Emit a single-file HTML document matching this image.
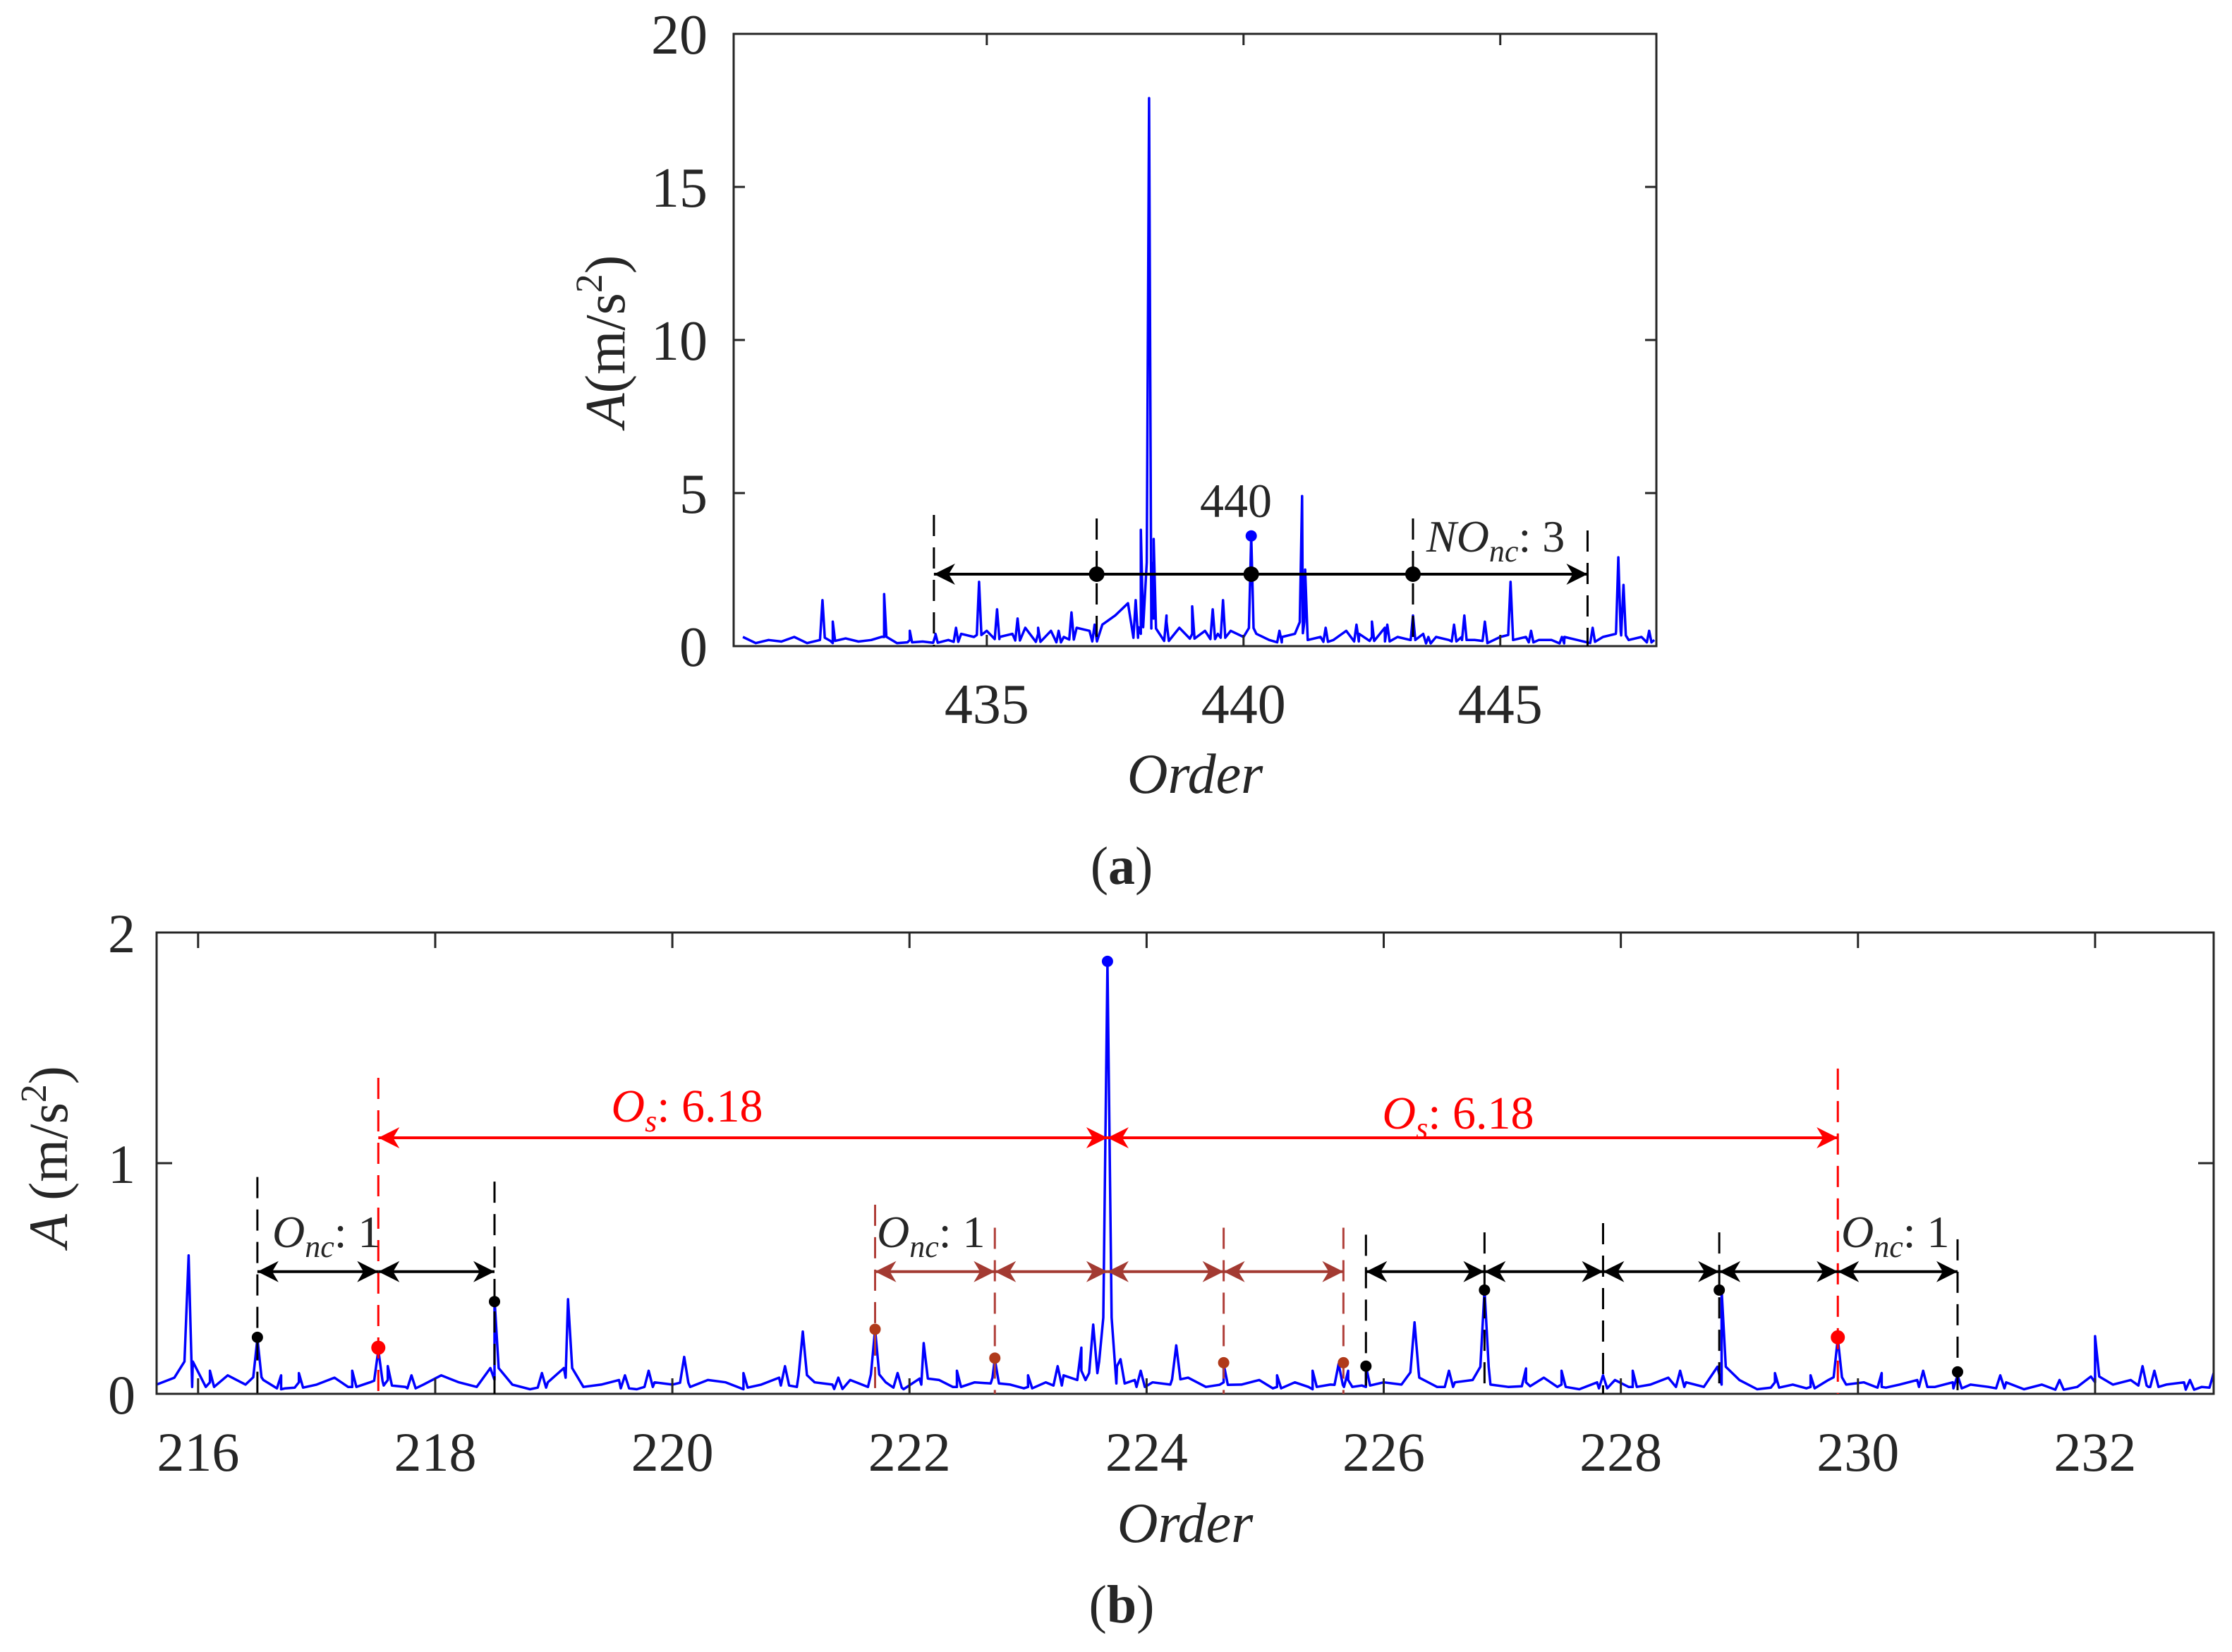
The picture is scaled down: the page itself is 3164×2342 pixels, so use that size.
<!DOCTYPE html>
<html><head><meta charset="utf-8"><style>
html,body{margin:0;padding:0;background:#fff}
svg{display:block}
text{font-family:"Liberation Serif",serif;fill:#262626}
</style></head><body>
<svg id="fig" width="3164" height="2342" viewBox="0 0 3164 2342" xmlns="http://www.w3.org/2000/svg">
<g id="top"></g>
<g id="bot"></g>
</svg>
<script>
// ---------- Chart (a) data ----------
const aXTicks = [435, 440, 445];
const aYTicks = [0, 5, 10, 15, 20];
const aPeakOrders = [431.8,432.0,433.0,433.5,434.0,434.4,434.85,435.2,435.6,436.0,436.4,436.65,437.1,437.9,438.0,438.16,438.25,438.5,439.0,439.4,439.6,440.15,440.7,441.14,441.2,441.6,442.2,442.5,442.8,443.3,443.6,444.1,444.3,444.7,445.2,445.6,446.2,446.8,447.3,447.4,447.9];
const aPeakValues = [1.5,0.8,1.7,0.5,0.4,0.6,2.1,1.2,0.9,0.6,0.5,1.1,0.7,1.5,3.8,17.9,3.5,0.8,1.3,1.2,1.5,3.6,0.5,4.9,2.5,0.6,0.7,0.8,0.7,1.0,0.3,0.7,1.0,0.8,2.1,0.5,0.3,0.6,2.9,2.0,0.5];
const aBaseStart = 430.0, aBaseStep = 0.25;
const aBaseValues = [0.2,0.3,0.1,0.2,0.15,0.3,0.1,0.2,0.1,0.25,0.15,0.2,0.3,0.1,0.2,0.15,0.35,0.2,0.4,0.3,0.5,0.3,0.4,0.6,0.4,0.5,0.3,0.6,0.5,0.7,1.0,1.4,0.4,0.9,1.0,0.6,0.4,0.5,0.4,0.5,0.3,0.4,0.2,0.3,0.4,0.2,0.3,0.2,0.5,0.4,0.3,0.6,0.3,0.2,0.4,0.3,0.2,0.3,0.2,0.1,0.3,0.2,0.3,0.2,0.2,0.3,0.2,0.1,0.3,0.4,0.2,0.3,0.2];
const aMarkerOrders = [437.14, 440.15, 443.3];
const aDashOrders = [433.97, 437.14, 443.3, 446.7];

// ---------- Chart (b) data ----------
const bXTicks = [216,218,220,222,224,226,228,230,232];
const bYTicks = [0,1,2];
const bPeakOrders = [215.92,216.1,216.5,216.7,216.85,217.3,217.52,217.6,217.8,218.5,218.9,219.12,219.6,219.8,220.1,220.6,220.95,221.1,221.4,221.71,221.9,222.12,222.4,222.72,223.0,223.25,223.45,223.55,223.67,223.78,223.95,224.25,224.65,225.1,225.4,225.62,225.7,225.85,226.26,226.55,226.85,227.2,227.5,227.85,228.1,228.5,228.85,229.3,229.6,229.83,230.2,230.55,230.84,231.2,231.7,232.0,232.4,232.5,232.8,233.0];
const bPeakValues = [0.6,0.1,0.24,0.08,0.09,0.1,0.19,0.12,0.08,0.41,0.09,0.41,0.08,0.1,0.16,0.09,0.12,0.27,0.07,0.28,0.09,0.22,0.1,0.15,0.08,0.12,0.2,0.3,1.87,0.15,0.1,0.21,0.13,0.08,0.1,0.13,0.1,0.12,0.31,0.1,0.45,0.11,0.1,0.08,0.1,0.1,0.45,0.09,0.08,0.24,0.09,0.1,0.08,0.08,0.06,0.25,0.12,0.1,0.06,0.09];
const bBaseStart = 215.65, bBaseStep = 0.15;
const bBaseValues = [0.04,0.07,0.03,0.05,0.08,0.04,0.06,0.02,0.05,0.04,0.07,0.03,0.05,0.06,0.03,0.04,0.08,0.05,0.03,0.06,0.04,0.02,0.05,0.07,0.03,0.04,0.06,0.02,0.05,0.04,0.03,0.06,0.05,0.02,0.04,0.07,0.03,0.05,0.04,0.06,0.03,0.05,0.02,0.04,0.06,0.03,0.05,0.07,0.04,0.03,0.05,0.08,0.1,0.14,0.12,0.06,0.05,0.04,0.07,0.03,0.05,0.04,0.06,0.03,0.05,0.02,0.04,0.06,0.03,0.05,0.04,0.07,0.03,0.05,0.06,0.04,0.03,0.05,0.07,0.04,0.02,0.05,0.06,0.03,0.04,0.07,0.05,0.03,0.04,0.06,0.02,0.05,0.04,0.03,0.06,0.04,0.05,0.03,0.04,0.06,0.03,0.05,0.04,0.03,0.05,0.02,0.04,0.06,0.03,0.05,0.04,0.06,0.03,0.04,0.05,0.03,0.06];
const bMarkerOrders = [216.5,217.52,218.5,221.71,222.72,223.67,224.65,225.66,225.85,226.85,228.83,229.83,230.84];
const bMarkerValues = [0.245,0.2,0.4,0.28,0.155,1.875,0.135,0.135,0.12,0.45,0.45,0.245,0.095];
const bMarkerColors = ['#000','#f00','#000','#b03a1a','#b03a1a','#00f','#b03a1a','#b03a1a','#000','#000','#000','#f00','#000'];
const bBlackDashOrders = [216.5,218.5,225.85,226.85,227.85,228.83,230.84];
const bBlackDashTops = [0.94,0.92,0.69,0.7,0.74,0.7,0.67];
const bBrownDashOrders = [221.71,222.72,224.65,225.66];
const bBrownDashTops = [0.82,0.72,0.72,0.72];
const bRedDashOrders = [217.52,229.83];
const bRedDashTops = [1.37,1.41];
const bBlackArrowChain1 = [216.5,217.52,218.5];
const bBrownArrowChain = [221.71,222.72,223.67,224.65,225.66];
const bBlackArrowChain2 = [225.85,226.85,227.85,228.83,229.83,230.84];
const bRedArrowChain = [217.52,223.67,229.83];

const NS='http://www.w3.org/2000/svg';
function mk(parent,tag,attrs){const e=document.createElementNS(NS,tag);for(const k in attrs)e.setAttribute(k,attrs[k]);parent.appendChild(e);return e;}

function buildLine(peakO,peakV,bStart,bStep,bVals,w){
  const pts=[];
  bVals.forEach((v,i)=>pts.push([bStart+i*bStep,v]));
  peakO.forEach((o,i)=>{pts.push([o-w,Math.min(peakV[i]*0.3,0.15*peakV[i]+0.05)]);pts.push([o,peakV[i]]);pts.push([o+w,Math.min(peakV[i]*0.3,0.15*peakV[i]+0.05)]);});
  pts.sort((a,b)=>a[0]-b[0]);
  return pts;
}

function axesBox(g,L,R,T,B){
  const r=mk(g,'rect',{x:L,y:T,width:R-L,height:B-T,fill:'none',stroke:'#262626','stroke-width':3});
  
  
}

function arrowHead(g,x,y,dir,color){
  const L=30,H=15;
  const p=mk(g,'polygon',{points:`${x},${y} ${x-dir*L},${y-H} ${x-dir*L*0.7},${y} ${x-dir*L},${y+H}`,fill:color});
  
  
}
function dblArrow(g,x1,x2,y,color,w){
  const l=mk(g,'line',{x1:x1,x2:x2,y1:y,y2:y,stroke:color,'stroke-width':w});
  
  
  arrowHead(g,x1,y,-1,color);arrowHead(g,x2,y,1,color);
}
function dashLine(g,x,y1,y2,color){
  const l=mk(g,'line',{x1:x,x2:x,y1:y1,y2:y2,stroke:color,'stroke-width':3,'stroke-dasharray':'30,16'});
  
  
}

// ===== Chart (a) =====
(function(){
  const g=document.getElementById('top');
  const L=1040,R=2348,T=48,B=916,x0=430.07,x1=448.04,y0=0,y1=20;
  const X=v=>L+(v-x0)/(x1-x0)*(R-L), Y=v=>B-(v-y0)/(y1-y0)*(B-T);
  const pts=buildLine(aPeakOrders,aPeakValues,aBaseStart,aBaseStep,aBaseValues,0.045);
  const clip=mk(g,'clipPath',{id:'ca'});mk(clip,'rect',{x:L,y:T,width:R-L,height:B-T});
  const line=mk(g,'polyline',{points:pts.filter(p=>p[0]>=x0&&p[0]<=x1).map(p=>X(p[0]).toFixed(1)+','+Y(p[1]).toFixed(1)).join(' '),fill:'none',stroke:'#0000ff','stroke-width':3.5,'stroke-linejoin':'round','clip-path':'url(#ca)'});
  
  
  // stem dot 440
  const sd=mk(g,'circle',{cx:X(440.15),cy:Y(3.6),r:8,fill:'#0000ff'});
  
  
  axesBox(g,L,R,T,B);
  aXTicks.forEach(t=>{
    mk(g,'line',{x1:X(t),x2:X(t),y1:B,y2:B-16,stroke:'#262626','stroke-width':3});
    mk(g,'line',{x1:X(t),x2:X(t),y1:T,y2:T+16,stroke:'#262626','stroke-width':3});
    const tx=mk(g,'text',{x:X(t),y:1025,'font-size':80,'text-anchor':'middle'});tx.textContent=t;
    
    
  });
  aYTicks.forEach(t=>{
    mk(g,'line',{x1:L,x2:L+16,y1:Y(t),y2:Y(t),stroke:'#262626','stroke-width':3});
    mk(g,'line',{x1:R,x2:R-16,y1:Y(t),y2:Y(t),stroke:'#262626','stroke-width':3});
    const tx=mk(g,'text',{x:1003,y:Y(t)+28,'font-size':80,'text-anchor':'end'});tx.textContent=t;
    
    
  });
  const ay=Y(2.35);
  aDashOrders.forEach((o,i)=>dashLine(g,X(o),(i==0||i==3)?(i==0?730:752):735,B,'#000'));
  dblArrow(g,X(aDashOrders[0]),X(aDashOrders[3]),ay,'#000',4);
  aMarkerOrders.forEach(o=>{const c=mk(g,'circle',{cx:X(o),cy:ay,r:11,fill:'#000'});
    
    });
  const t440=mk(g,'text',{x:1752,y:733,'font-size':68,'text-anchor':'middle',fill:'#000'});t440.textContent='440';
  
  
  const tno=mk(g,'text',{x:2022,y:782,'font-size':64,fill:'#000'});
  tno.innerHTML='<tspan font-style="italic">NO</tspan><tspan font-style="italic" font-size="44" dy="14">nc</tspan><tspan dy="-14">: 3</tspan>';
  
  
  const yt=mk(g,'text',{transform:'translate(885,484) rotate(-90)','font-size':80,'text-anchor':'middle'});
  yt.innerHTML='<tspan font-style="italic">A</tspan>(m/s<tspan font-size="54" dy="-32">2</tspan><tspan dy="32">)</tspan>';
  
  
  const xt=mk(g,'text',{x:1694,y:1124,'font-size':80,'font-style':'italic','text-anchor':'middle'});xt.textContent='Order';
  
  
  const cap=mk(g,'text',{x:1590,y:1253,'font-size':76,'text-anchor':'middle',fill:'#000'});
  cap.innerHTML='(<tspan font-weight="bold">a</tspan>)';
  
  
})();

// ===== Chart (b) =====
(function(){
  const g=document.getElementById('bot');
  const L=222,R=3138,T=1322,B=1976,x0=215.65,x1=233.0,y0=0,y1=2;
  const X=v=>L+(v-x0)/(x1-x0)*(R-L), Y=v=>B-(v-y0)/(y1-y0)*(B-T);
  const pts=buildLine(bPeakOrders,bPeakValues,bBaseStart,bBaseStep,bBaseValues,0.035);
  const clip=mk(g,'clipPath',{id:'cb'});mk(clip,'rect',{x:L,y:T,width:R-L,height:B-T});
  const line=mk(g,'polyline',{points:pts.filter(p=>p[0]>=x0-0.1&&p[0]<=x1+0.1).map(p=>X(p[0]).toFixed(1)+','+Y(p[1]).toFixed(1)).join(' '),fill:'none',stroke:'#0000ff','stroke-width':3.5,'stroke-linejoin':'round','clip-path':'url(#cb)'});
  
  
  axesBox(g,L,R,T,B);
  bXTicks.forEach(t=>{
    mk(g,'line',{x1:X(t),x2:X(t),y1:B,y2:B-22,stroke:'#262626','stroke-width':3});
    mk(g,'line',{x1:X(t),x2:X(t),y1:T,y2:T+22,stroke:'#262626','stroke-width':3});
    const tx=mk(g,'text',{x:X(t),y:2085,'font-size':78,'text-anchor':'middle'});tx.textContent=t;
    
    
  });
  bYTicks.forEach(t=>{
    mk(g,'line',{x1:L,x2:L+22,y1:Y(t),y2:Y(t),stroke:'#262626','stroke-width':3});
    mk(g,'line',{x1:R,x2:R-22,y1:Y(t),y2:Y(t),stroke:'#262626','stroke-width':3});
    const tx=mk(g,'text',{x:192,y:Y(t)+28,'font-size':78,'text-anchor':'end'});tx.textContent=t;
    
    
  });
  bBlackDashOrders.forEach((o,i)=>dashLine(g,X(o),Y(bBlackDashTops[i]),B,'#000'));
  bBrownDashOrders.forEach((o,i)=>dashLine(g,X(o),Y(bBrownDashTops[i]),B,'#b0403a'));
  bRedDashOrders.forEach((o,i)=>dashLine(g,X(o),Y(bRedDashTops[i]),B,'#ff0000'));
  const ya=Y(0.53), yr=Y(1.11);
  for(let i=0;i<bBlackArrowChain1.length-1;i++)dblArrow(g,X(bBlackArrowChain1[i]),X(bBlackArrowChain1[i+1]),ya,'#000',4);
  for(let i=0;i<bBrownArrowChain.length-1;i++)dblArrow(g,X(bBrownArrowChain[i]),X(bBrownArrowChain[i+1]),ya,'#a33a32',4);
  for(let i=0;i<bBlackArrowChain2.length-1;i++)dblArrow(g,X(bBlackArrowChain2[i]),X(bBlackArrowChain2[i+1]),ya,'#000',4);
  for(let i=0;i<bRedArrowChain.length-1;i++)dblArrow(g,X(bRedArrowChain[i]),X(bRedArrowChain[i+1]),yr,'#ff0000',4);
  bMarkerOrders.forEach((o,i)=>{const c=mk(g,'circle',{cx:X(o),cy:Y(bMarkerValues[i]),r:(bMarkerColors[i]=='#f00'?10:8),fill:bMarkerColors[i]});
    
    });
  function onc(x,col,name){const t=mk(g,'text',{x:x,y:1768,'font-size':64,fill:col});
    t.innerHTML='<tspan font-style="italic">O</tspan><tspan font-style="italic" font-size="44" dy="14">nc</tspan><tspan dy="-14">: 1</tspan>';
    
    }
  onc(386,'#000','onc-label-left');
  onc(1243,'#c0504d','onc-label-middle');
  onc(2610,'#000','onc-label-right');
  function os(x,y,name){const t=mk(g,'text',{x:x,y:y,'font-size':66,fill:'#ff0000','text-anchor':'middle'});
    t.innerHTML='<tspan font-style="italic" fill="#ff0000">O</tspan><tspan font-style="italic" font-size="44" dy="14" fill="#ff0000">s</tspan><tspan dy="-14" fill="#ff0000">: 6.18</tspan>';
    
    }
  os(974,1590,'os-label-left');
  os(2067,1600,'os-label-right');
  const yt=mk(g,'text',{transform:'translate(95,1640) rotate(-90)','font-size':78,'text-anchor':'middle'});
  yt.innerHTML='<tspan font-style="italic">A</tspan> (m/s<tspan font-size="52" dy="-30">2</tspan><tspan dy="30">)</tspan>';
  
  
  const xt=mk(g,'text',{x:1680,y:2186,'font-size':80,'font-style':'italic','text-anchor':'middle'});xt.textContent='Order';
  
  
  const cap=mk(g,'text',{x:1590,y:2300,'font-size':76,'text-anchor':'middle',fill:'#000'});
  cap.innerHTML='(<tspan font-weight="bold">b</tspan>)';
  
  
})();
</script>
</body></html>
